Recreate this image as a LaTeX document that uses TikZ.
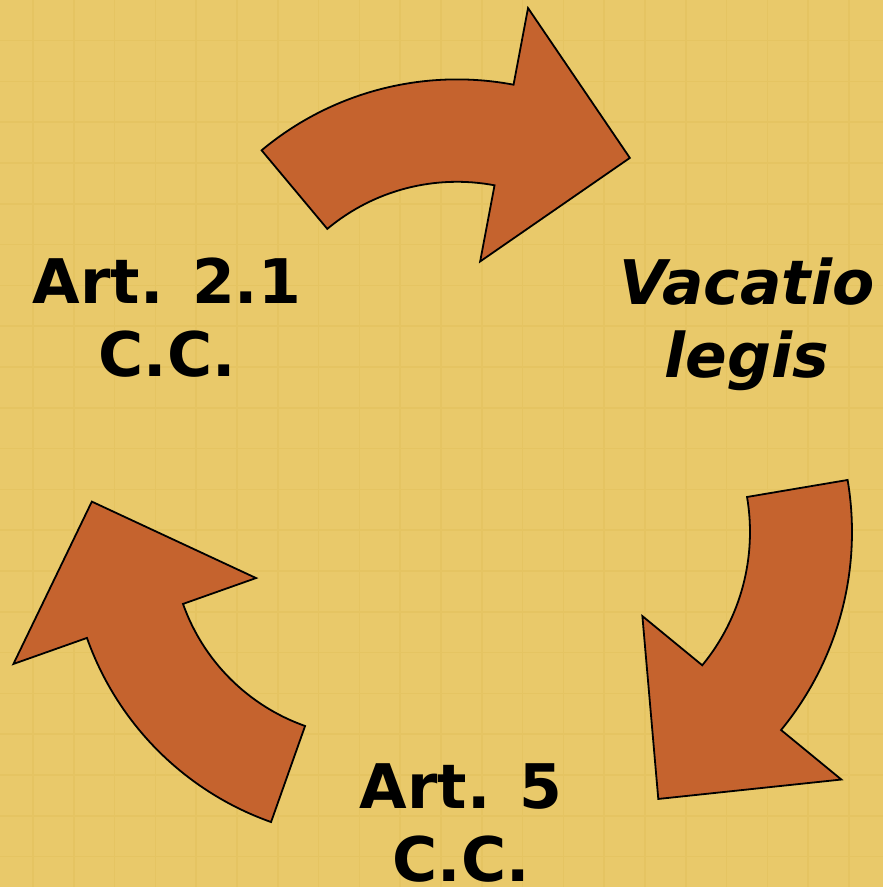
\documentclass[tikz,border=0pt]{standalone}
\usepackage{fontspec}
\setmainfont{DejaVu Sans}
\definecolor{bgyellow}{HTML}{E9C96A}
\definecolor{gridline}{HTML}{E5C462}
\definecolor{arrowfill}{HTML}{C5632E}
\tikzset{
  arrowshape/.style={fill=arrowfill, draw=black, line width=1.8pt, line join=miter},
  cyclabel/.style={font=\bfseries\fontsize{61.5}{73}\selectfont, align=center, inner sep=0pt, anchor=north},
  gridstyle/.style={draw=gridline, line width=1.6pt}
}
% #1 cx, #2 cy, #3 outer radius, #4 inner radius, #5 tail angle, #6 neck angle
\newcommand{\cyclearrow}[6]{%
  \begin{scope}[shift={(#1,#2)}]
    \pgfmathsetmacro\tipang{#6-26.7}
    \pgfmathsetmacro\barbout{#3+78}
    \pgfmathsetmacro\barbin{#4-77.5}
    \pgfmathsetmacro\tiprad{#3-20}
    \filldraw[arrowshape] (#5:#3) arc[start angle=#5, end angle=#6, radius=#3]
      -- (#6:\barbout) -- (\tipang:\tiprad) -- (#6:\barbin) -- (#6:#4)
      arc[start angle=#6, end angle=#5, radius=#4] -- cycle;
  \end{scope}}
\begin{document}
\begin{tikzpicture}[x=1pt,y=1pt]
  \useasboundingbox (0,0) rectangle (883,887);
  \fill[bgyellow] (0,0) rectangle (883,887);
  \begin{scope}
    \clip (0,0) rectangle (883,887);
    \foreach \k in {0,...,21} {
      \draw[gridstyle] ({33+40.8*\k},0) -- ({33+40.8*\k},887);
      \draw[gridstyle] (0,{846.3-40.8*\k}) -- (883,{846.3-40.8*\k});
    }
  \end{scope}
  % arrows
  \cyclearrow{457}{503}{304.6}{202.2}{129.9}{79.3}
  \cyclearrow{540}{355}{312}{210}{9.6}{-39.4}
  \cyclearrow{372}{350}{302.4}{200.5}{-109.5}{-160.5}
  % labels
  \node[cyclabel] (art21) at (167,629) {Art. 2.1\\C.C.};
  \node[cyclabel, font=\bfseries\itshape\fontsize{61.5}{73}\selectfont] (vacatio) at (747,629) {Vacatio\\legis};
  \node[cyclabel] (art5) at (461,124) {Art. 5\\C.C.};
\end{tikzpicture}
\end{document}
